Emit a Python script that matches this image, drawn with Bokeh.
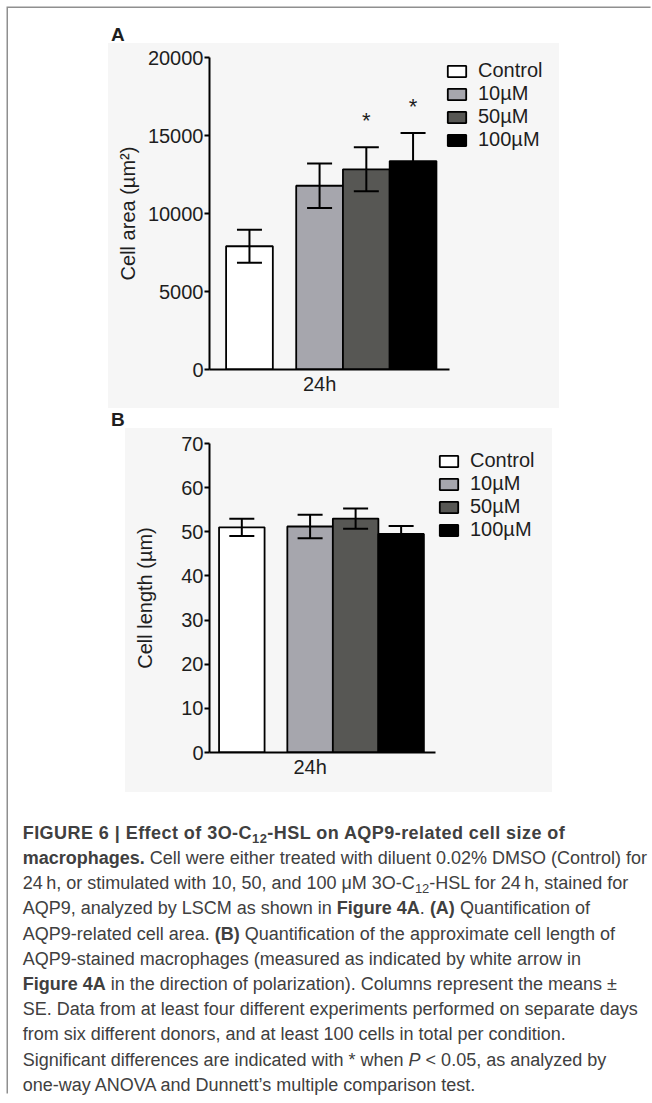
from bokeh.plotting import figure
from bokeh.models import (ColumnDataSource, Whisker, TeeHead, Legend, LegendItem,
                          Div, Range1d, FixedTicker)
from bokeh.layouts import column
from bokeh.embed import file_html
from bokeh.resources import INLINE
from bokeh.core.properties import value

# ---------------- data ----------------
treatments = ["Control", "10µM", "50µM", "100µM"]
groups = ["DMSO", "3O-C12-HSL", "3O-C12-HSL", "3O-C12-HSL"]
bar_colors = ["#ffffff", "#a6a6ad", "#575754", "#000000"]
time_label = "24h"

area_mean = [7900, 11780, 12830, 13360]
area_se = [1060, 1420, 1410, 1800]
area_sig = ["", "", "*", "*"]
area_ticks = [0, 5000, 10000, 15000, 20000]

length_mean = [51.0, 51.2, 53.0, 49.5]
length_se = [1.97, 2.65, 2.3, 1.8]
length_sig = ["", "", "", ""]
length_ticks = [0, 10, 20, 30, 40, 50, 60, 70]

caption_lines = [
    "<b style=\"letter-spacing:0.45px\">FIGURE 6 | Effect of 3O-C<sub>12</sub>-HSL on AQP9-related cell size of</b>",
    "<b>macrophages.</b> Cell were either treated with diluent 0.02% DMSO (Control) for",
    "24\u2009h, or stimulated with 10, 50, and 100 \u03bcM 3O-C<sub>12</sub>-HSL for 24\u2009h, stained for",
    "AQP9, analyzed by LSCM as shown in <b>Figure 4A</b>. <b>(A)</b> Quantification of",
    "AQP9-related cell area. <b>(B)</b> Quantification of the approximate cell length of",
    "AQP9-stained macrophages (measured as indicated by white arrow in",
    "<b>Figure 4A</b> in the direction of polarization). Columns represent the means \u00b1",
    "SE. Data from at least four different experiments performed on separate days",
    "from six different donors, and at least 100 cells in total per condition.",
    "Significant differences are indicated with * when <i>P</i> &lt; 0.05, as analyzed by",
    "one-way ANOVA and Dunnett\u2019s multiple comparison test.",
]

FONT = "Liberation Sans"
TXT = "#1e1e1e"
PANEL_BG = "#f6f6f6"
GROUP_GAP = 0.5  # gap (in bar widths) between the control group and treated group


def bar_positions():
    pos, shift = [], 0.0
    for i, g in enumerate(groups):
        if i > 0 and g != groups[i - 1]:
            shift += GROUP_GAP
        pos.append(i + shift)
    return pos


def make_panel(mean, se, sig, ticks, ylabel, height, vborders, xspan,
               label_standoff, legend_loc):
    xs = bar_positions()
    src = ColumnDataSource(dict(
        x=xs, top=mean, color=bar_colors,
        upper=[m + s for m, s in zip(mean, se)],
        lower=[m - s for m, s in zip(mean, se)],
        sig=sig,
    ))
    x_start, axis_end, x_end = xspan
    bt, bb = vborders
    p = figure(width=644, height=height,
               x_range=Range1d(x_start, x_end),
               y_range=Range1d(ticks[0], ticks[-1]),
               min_border_left=201, min_border_right=52,
               min_border_top=bt, min_border_bottom=bb,
               toolbar_location=None, output_backend="svg",
               background_fill_color=None, border_fill_color=None,
               outline_line_color=None)
    p.grid.visible = False

    bars = p.vbar(x="x", top="top", width=1.0, source=src,
                  fill_color="color", line_color="black", line_width=1.8)

    p.add_layout(Whisker(base="x", upper="upper", lower="lower", source=src,
                         level="annotation", line_width=2, line_color="black",
                         upper_head=TeeHead(size=25, line_width=2, line_color="black"),
                         lower_head=TeeHead(size=25, line_width=2, line_color="black")))

    p.text(x="x", y="upper", text="sig", source=src, text_align="center",
           text_baseline="middle", y_offset=-27, text_font=value(FONT),
           text_font_size="22px", text_color=TXT)

    # y axis
    ya = p.yaxis[0]
    ya.ticker = ticks
    ya.axis_label = ylabel
    ya.axis_label_text_font = FONT
    ya.axis_label_text_font_size = "20px"
    ya.axis_label_text_font_style = "normal"
    ya.axis_label_text_color = TXT
    ya.axis_label_standoff = label_standoff
    ya.major_label_text_font = FONT
    ya.major_label_text_font_size = "20px"
    ya.major_label_text_color = TXT
    ya.major_label_standoff = 1
    ya.major_tick_out = 5
    ya.major_tick_in = 0
    ya.major_tick_line_width = 2
    ya.minor_tick_line_color = None
    ya.axis_line_width = 2

    # x axis: one time-point label under the group of bars
    xa = p.xaxis[0]
    label_pos = xs[1]
    xa.ticker = FixedTicker(ticks=[label_pos])
    xa.major_label_overrides = {label_pos: time_label}
    xa.bounds = (x_start, axis_end)
    xa.major_tick_line_color = None
    xa.minor_tick_line_color = None
    xa.major_tick_out = 0
    xa.major_label_standoff = 3
    xa.major_label_text_font = FONT
    xa.major_label_text_font_size = "20px"
    xa.major_label_text_color = TXT
    xa.axis_line_width = 2

    items = [LegendItem(label=value(t), renderers=[bars], index=i)
             for i, t in enumerate(treatments)]
    leg = Legend(items=items, location=legend_loc, orientation="vertical",
                 padding=0, margin=0, spacing=0, glyph_width=23, glyph_height=14,
                 label_standoff=10, label_height=14,
                 label_text_font=FONT, label_text_font_size="20px",
                 label_text_color=TXT, border_line_color=None,
                 background_fill_alpha=0)
    p.add_layout(leg)
    return p


pA = make_panel(area_mean, area_se, area_sig, area_ticks, "Cell area (µm\u00b2)",
                365, (14, 39), (-0.855, 4.285, 7.51), 6, (236, 218))
pB = make_panel(length_mean, length_se, length_sig, length_ticks, "Cell length (µm)",
                364, (15, 40), (-0.71, 4.257, 7.88), 22, (228, 211))


def letter_div(letter, h, pad_top):
    html = ('<div style="font-family:\'Liberation Sans\',Arial,sans-serif;font-size:19px;'
            'font-weight:bold;color:#1e1e1e;line-height:14px;padding-left:103px;'
            'padding-top:%.1fpx;">%s</div>' % (pad_top, letter))
    return Div(text=html, width=644, height=h, margin=(0, 0, 0, 0))


divA = letter_div("A", 35, 20.2)
divB = letter_div("B", 20, 5.2)

cap_html = ('<div style="font-family:\'Liberation Sans\',Arial,sans-serif;font-size:18px;'
            'line-height:25.2px;color:#404040;white-space:nowrap;'
            'padding-left:14.7px;padding-top:28.7px;">'
            + "<br>".join(caption_lines).replace(
                "<sub>", '<sub style="font-size:0.72em;vertical-align:-0.3em;line-height:0;">')
            + "</div>")
cap = Div(text=cap_html, width=644, height=303, margin=(0, 0, 0, 0))

layout = column(divA, pA, divB, pB, cap, spacing=0, margin=(8, 0, 0, 8),
                styles={
                    "box-shadow": "-1.5px -1.5px 0 0 #8f8f8f",
                    "background-image": "linear-gradient(%s,%s), linear-gradient(%s,%s)"
                                        % (PANEL_BG, PANEL_BG, PANEL_BG, PANEL_BG),
                    "background-repeat": "no-repeat",
                    "background-position": "100px 35px, 117px 420px",
                    "background-size": "451px 365px, 427px 364px",
                })

open("out.html", "w").write(file_html(layout, INLINE, "Figure 6"))
